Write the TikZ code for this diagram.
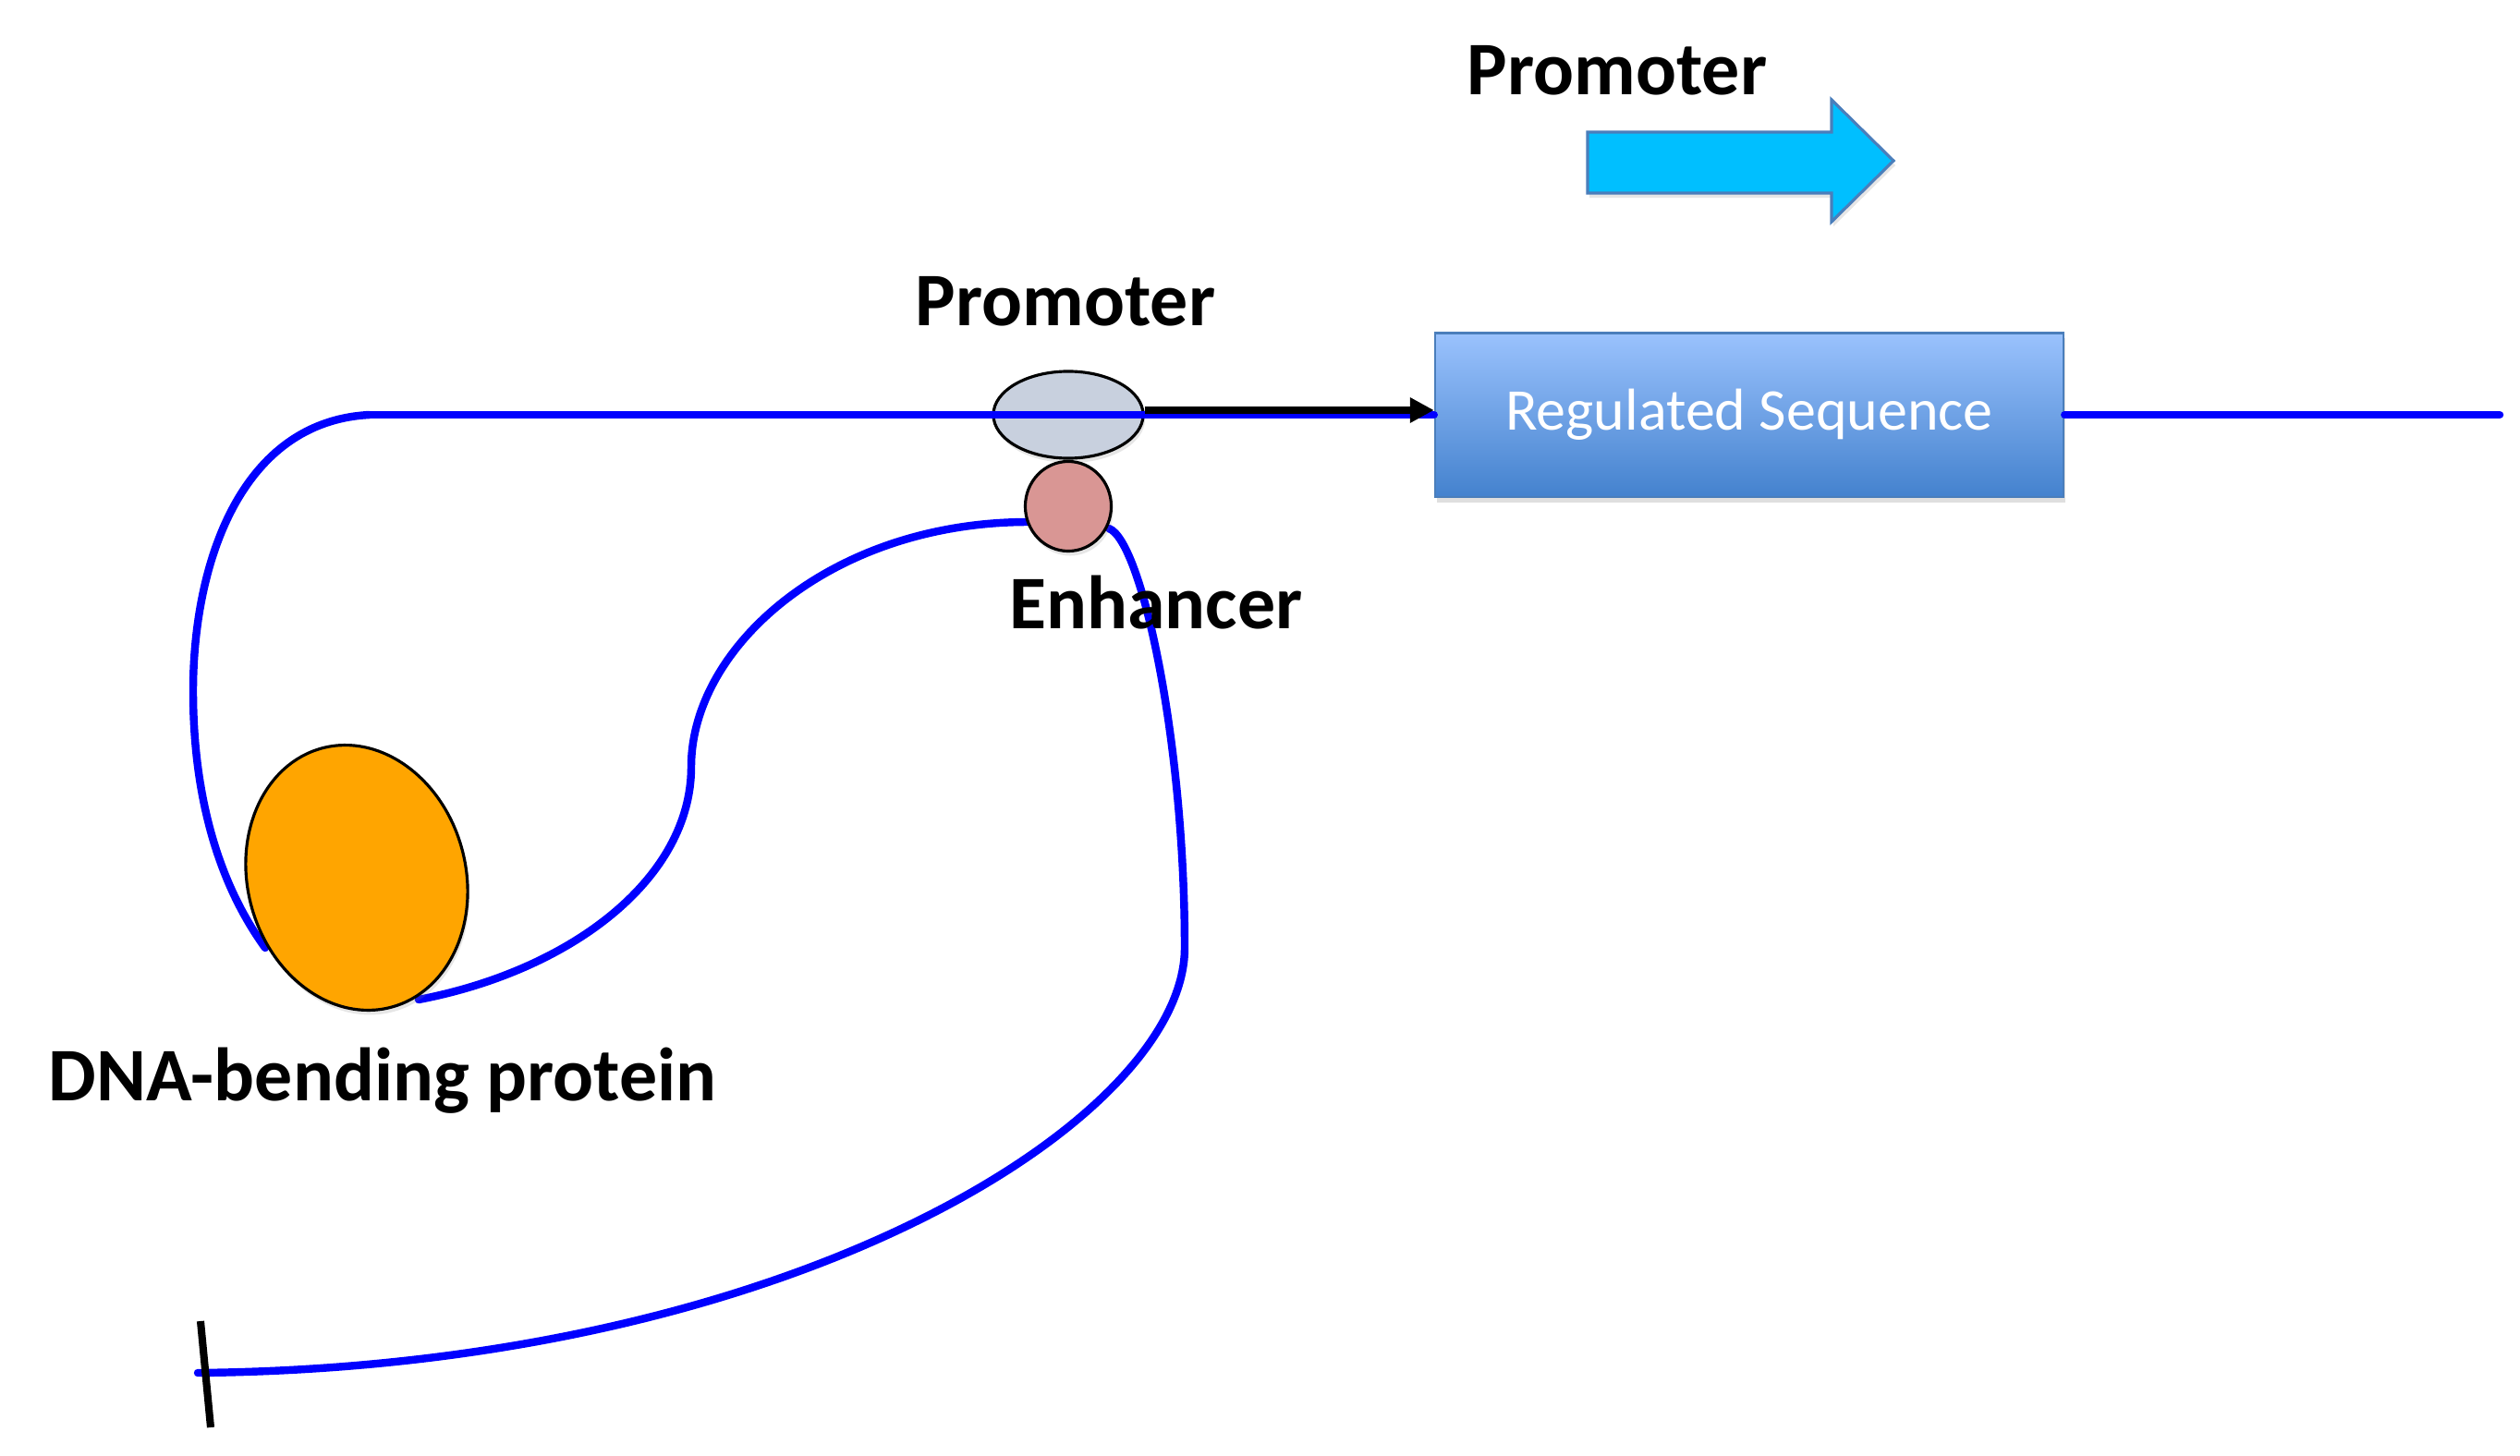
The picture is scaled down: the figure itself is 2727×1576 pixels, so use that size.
\documentclass[tikz,border=0pt]{standalone}
\usepackage{fontspec}
\setmainfont{Carlito}
\usetikzlibrary{shapes.geometric,arrows.meta,shadows}
\definecolor{dnablue}{HTML}{0000FF}
\definecolor{promfill}{HTML}{C8D0DE}
\definecolor{enhfill}{HTML}{D99694}
\definecolor{orangefill}{HTML}{FFA500}
\definecolor{boxtop}{HTML}{9AC2FD}
\definecolor{boxbot}{HTML}{4482CE}
\definecolor{boxedge}{HTML}{4A7EBB}
\definecolor{arrowfill}{HTML}{00BFFF}
\tikzset{
  dna/.style={draw=dnablue, line width=2.4pt, line cap=round},
  blob/.style={ellipse, draw=black, line width=0.9pt, inner sep=0pt,
    drop shadow={opacity=0.2, shadow xshift=0.02cm, shadow yshift=-0.05cm}},
  lbl/.style={font=\bfseries\fontsize{23.3}{28}\selectfont, anchor=base, inner sep=0pt},
  regbox/.style={rectangle, draw=boxedge, line width=0.6pt, top color=boxtop, bottom color=boxbot,
    minimum width=6.8cm, minimum height=1.77cm, inner sep=0pt, text=white,
    font=\fontsize{18.2}{22}\selectfont,
    drop shadow={opacity=0.25, shadow xshift=0.02cm, shadow yshift=-0.06cm}},
  blackarrow/.style={draw=black, line width=2.3pt, -{Triangle[length=0.26cm, width=0.26cm]}},
  tick/.style={draw=black, line width=2.3pt}
}
\begin{document}
\begin{tikzpicture}[x=0.01cm, y=-0.01cm]
\useasboundingbox (0,0) rectangle (2727,1576);
% promoter arrow
\path[fill=arrowfill, draw=boxedge, line width=0.9pt,
  drop shadow={opacity=0.2, shadow xshift=0.02cm, shadow yshift=-0.05cm}]
  (1718,143) -- (1982,143) -- (1982,108) -- (2049,174) -- (1982,240) -- (1982,209) -- (1718,209) -- cycle;
\node[lbl] (ptop) at (1750,103) {Promoter};
% regulated sequence box
\node[regbox] (reg) at (1893,449) {\raisebox{-0.05cm}{Regulated Sequence}};
% promoter ellipse
\node[blob, fill=promfill, minimum width=1.62cm, minimum height=0.94cm] (prom) at (1156,449) {};
\node[lbl] (plabel) at (1153,353) {Promoter};
% DNA lines
\coordinate (s) at (400,449);
\coordinate (e) at (2705,449);
\coordinate (c1) at (287,1026);
\coordinate (c2) at (453,1082);
\coordinate (c3) at (1113,565);
\coordinate (c4) at (1200,572);
\coordinate (bend) at (1282,1026);
\coordinate (tail) at (214,1486);
\draw[dna] (s) -- (reg.west);
\draw[dna] (reg.east) -- (e);
\draw[dna] (s) .. controls (261,456) and (209,609) .. (209,748) .. controls (209,905) and (261,990) .. (c1);
\draw[dna] (c2) .. controls (620,1050) and (748,950) .. (748,830) .. controls (748,700) and (900,565) .. (c3);
\draw[dna] (c4) .. controls (1235,585) and (1282,800) .. (bend) .. controls (1282,1210) and (860,1480) .. (tail);
% black arrow
\draw[blackarrow] ([yshift=0.05cm]prom.east) -- ([yshift=0.05cm]reg.west);
% enhancer
\node[blob, fill=enhfill, minimum width=0.93cm, minimum height=0.97cm] (enh) at (1156,548) {};
\node[lbl] (elabel) at (1251,680) {Enhancer};
% DNA-bending protein
\node[blob, fill=orangefill, minimum width=2.36cm, minimum height=2.9cm, rotate=15] (dbp) at (386,950) {};
\node[lbl] (dlabel) at (414,1191) {DNA-bending protein};
% end tick
\coordinate (t1) at (217,1430);
\coordinate (t2) at (228,1545);
\draw[tick] (t1) -- (t2);
\end{tikzpicture}
\end{document}
